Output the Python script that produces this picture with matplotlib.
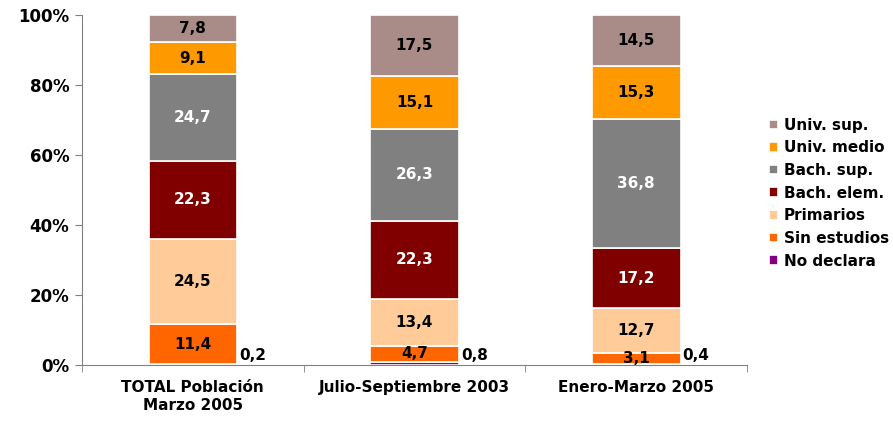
import matplotlib.pyplot as plt
import numpy as np

categories = ["TOTAL Población\nMarzo 2005", "Julio-Septiembre 2003", "Enero-Marzo 2005"]
series = ["No declara", "Sin estudios", "Primarios", "Bach. elem.",
          "Bach. sup.", "Univ. medio", "Univ. sup."]
no_declara = [0.2, 0.8, 0.4]
sin_estudios = [11.4, 4.7, 3.1]
primarios = [24.5, 13.4, 12.7]
bach_elem = [22.3, 22.3, 17.2]
bach_sup = [24.7, 26.3, 36.8]
univ_medio = [9.1, 15.1, 15.3]
univ_sup = [7.8, 17.5, 14.5]

colors = ["#800080", "#FF6600", "#FFCC99", "#800000",
          "#808080", "#FF9900", "#A98C88"]
text_colors = [None, "black", "black", "white", "white", "black", "black"]

values = [no_declara, sin_estudios, primarios, bach_elem,
          bach_sup, univ_medio, univ_sup]

fig = plt.figure(figsize=(8.93, 4.21), dpi=100)
ax = fig.add_axes([82 / 893, 1 - 365 / 421, (747 - 82) / 893, 350 / 421])

x = np.arange(len(categories))
bottom = np.zeros(len(categories))
for name, vals, col, tcol in zip(series, values, colors, text_colors):
    vals = np.array(vals)
    ax.bar(x, vals, 0.4, bottom=bottom, color=col, edgecolor="white",
           linewidth=1.2, label=name)
    for i, v in enumerate(vals):
        txt = f"{v:.1f}".replace(".", ",")
        if tcol is None:
            ax.text(x[i] + 0.21, 2.7, txt, ha="left", va="center",
                    fontsize=11, fontweight="bold", color="black")
        else:
            ax.text(x[i], bottom[i] + v / 2, txt, ha="center", va="center",
                    fontsize=11, fontweight="bold", color=tcol)
    bottom += vals

ax.set_xlim(-0.5, 2.5)
ax.set_ylim(0, 100)
ax.set_yticks(range(0, 101, 20))
ax.set_yticklabels([f"{t}%" for t in range(0, 101, 20)],
                   fontsize=12, fontweight="bold")
ax.set_xticks(x)
ax.set_xticklabels(categories, fontsize=11, fontweight="bold")
ax.set_xticks([-0.5, 0.5, 1.5, 2.5], minor=True)
ax.tick_params(axis="x", which="major", length=0, pad=11)
ax.tick_params(axis="x", which="minor", length=5, color="#808080")
ax.tick_params(axis="y", length=5, color="#808080", pad=4)
for s in ["top", "right"]:
    ax.spines[s].set_visible(False)
for s in ["left", "bottom"]:
    ax.spines[s].set_color("#808080")

handles, labels = ax.get_legend_handles_labels()
leg = fig.legend(handles[::-1], labels[::-1], loc="upper left",
                 bbox_to_anchor=(755 / 893, 1 - 104 / 421), frameon=False,
                 handlelength=0.6, handleheight=0.6, handletextpad=0.4,
                 labelspacing=0.5, prop={"size": 11, "weight": "bold"})

fig.savefig("out.png", dpi=100)
